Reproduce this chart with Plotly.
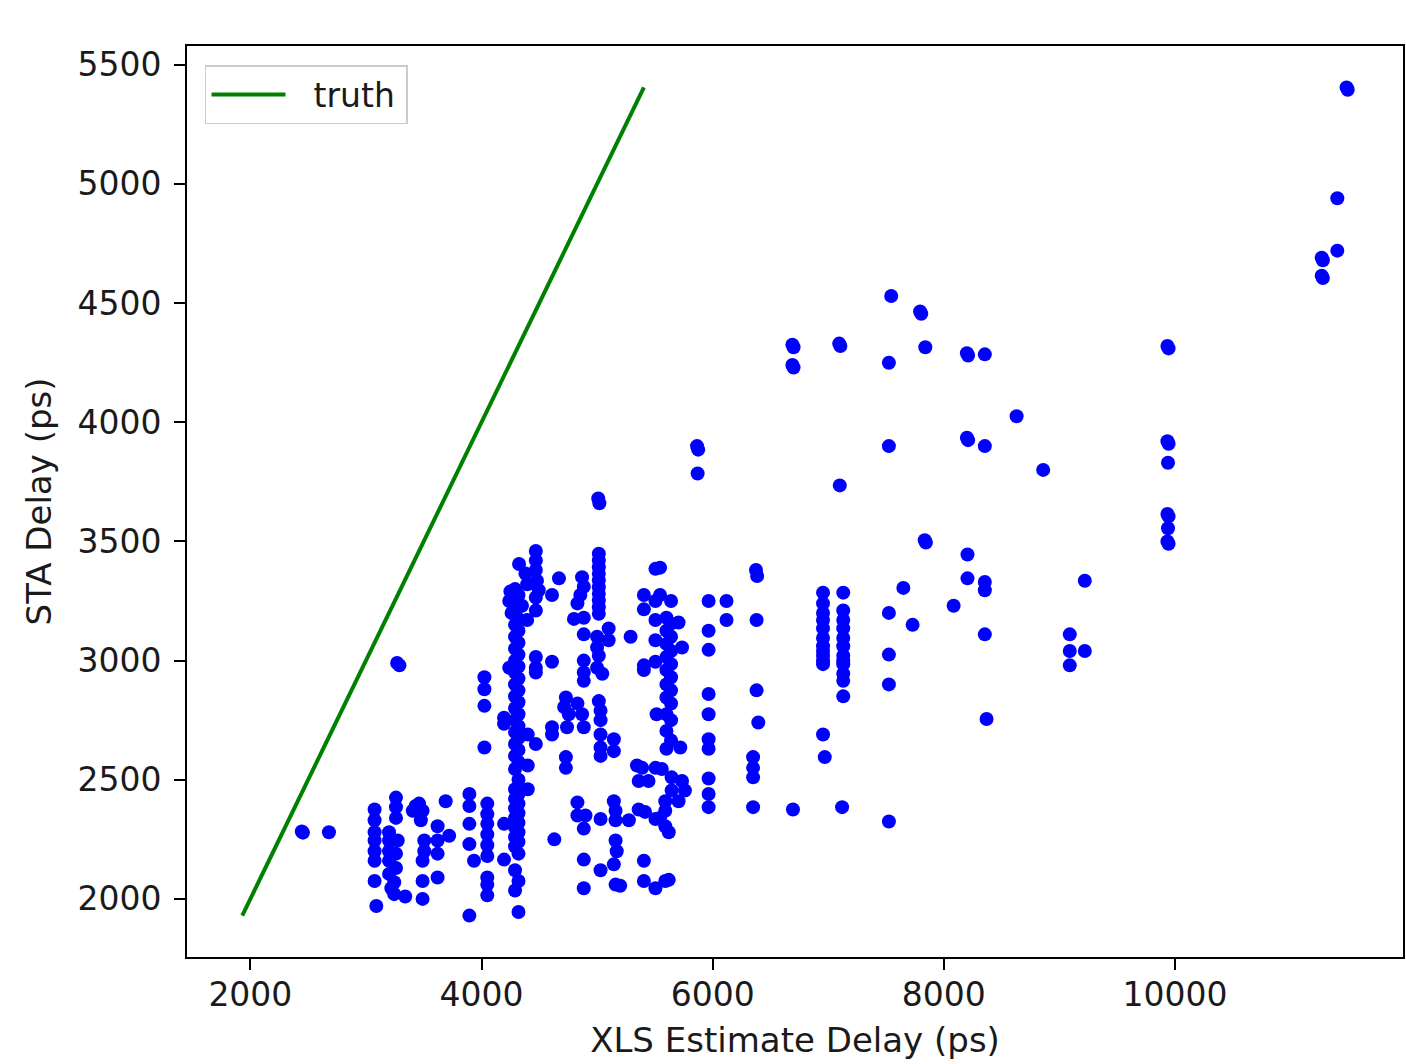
import plotly.graph_objects as go

# ---- data (ps) ----
xls_estimate = [
    2445, 2455, 2680, 3270, 3290,
    3075, 3075, 3075, 3075, 3075, 3075, 3075, 3090,
    3200, 3200, 3200, 3200, 3200, 3220, 3245, 3245, 3260, 3260, 3260, 3275, 3260, 3260, 3340,
    3405, 3460, 3490, 3475, 3430, 3505, 3505, 3490, 3490, 3490, 3620, 3620, 3620, 3620, 3690, 3720,
    3895, 3895, 3895, 3895, 3935, 3895, 4050, 4050, 4050, 4050, 4050, 4050, 4050, 4050, 4050,
    4195, 4195, 4025, 4025, 4025, 4195, 4195, 4025, 4240,
    4290, 4320, 4290, 4320, 4290, 4320, 4290, 4320, 4290, 4320,
    4290, 4320, 4290, 4320, 4290, 4320, 4290, 4320, 4290, 4320,
    4290, 4320, 4290, 4320, 4290, 4320, 4290, 4320, 4290, 4320,
    4290, 4320, 4290, 4320, 4290, 4320, 4290, 4320, 4290, 4320,
    4290, 4320, 4290, 4320, 4290, 4320, 4290, 4320, 4290, 4320,
    4325, 4380, 4395, 4250, 4240, 4260, 4350, 4395, 4470, 4470, 4470, 4480, 4495, 4470,
    4610, 4670, 4470, 4470, 4470, 4470, 4610, 4400, 4610, 4470, 4400, 4400, 4630, 4610,
    5010, 5020, 5015, 5015, 5015, 5015, 5015, 5015, 5015, 5015, 5015, 5015,
    4870, 4885, 4855, 4830, 4800, 4885, 4885, 4885, 4885, 4885,
    5000, 5000, 5015, 5000, 5045, 5100, 5100, 5290,
    5405, 5405, 5405, 5405, 5505, 5505, 5505, 5505, 5505, 5545, 5545,
    4730, 4715, 4755, 4740, 4830, 4870, 4885, 5015, 5030, 5030, 5030, 5030, 5030, 5145, 5145, 4730, 4730,
    5345, 5360, 5445, 5505, 5390, 5360, 5415, 5505, 5405, 5405, 5505, 5515,
    4830, 4830, 4900, 4885, 5030, 5145, 5160, 5160, 5275, 5160, 5170, 5145, 5030, 5160, 5200, 4885, 4885,
    5865, 5875, 5870, 5640, 5965, 6120, 6120, 5965, 5965, 5705, 5735, 5720,
    5600, 5640, 5600, 5640, 5600, 5640, 5600, 5640, 5600, 5640,
    5600, 5640, 5600, 5640, 5600, 5640, 5600, 5640, 5600,
    5965, 5965, 5965, 5965, 5965, 5965, 5965, 6375, 6385, 6380, 6380, 6395, 6350, 6350, 6350, 6350,
    5560, 5645, 5735, 5760, 5645, 5590, 5705, 5590, 5545, 5590, 5620, 5590, 5620,
    6690, 6700, 6690, 6700, 7095, 7105, 7100, 6695, 7120,
    6955, 6955, 6955, 6955, 6955, 6955, 6955, 6955, 6955, 6955, 6955, 6955, 6970,
    7130, 7130, 7130, 7130, 7130, 7130, 7130, 7130, 7130, 7130, 7130, 7130,
    7545, 7795, 7805, 7840, 7525, 7525, 7835, 7845, 7650, 7525, 7730, 7525, 7525, 7525,
    8085, 8200, 8210, 8355, 8630, 8200, 8210, 8355, 8860, 8205, 8205, 8355, 8355, 8355,
    9220, 9090, 9090, 9220, 9090, 8370,
    9935, 9945, 9935, 9945, 9940, 9935, 9945, 9940, 9935, 9945,
    11405, 11405, 11270, 11280, 11270, 11280, 11485, 11495,
]

sta_delay = [
    2283, 2278, 2280, 2990, 2980,
    2375, 2330, 2280, 2245, 2200, 2160, 2075, 1970,
    2280, 2245, 2200, 2160, 2105, 2045, 2020, 2070, 2425, 2385, 2340, 2245, 2190, 2130, 2010,
    2370, 2400, 2370, 2330, 2390, 2245, 2200, 2160, 2075, 2000, 2305, 2245, 2190, 2090, 2410, 2265,
    2440, 2390, 2315, 2230, 2160, 1930, 2400, 2355, 2315, 2270, 2225, 2180, 2090, 2060, 2015,
    2315, 2165, 2930, 2880, 2810, 2760, 2735, 2635, 2970,
    3300, 3275, 3250, 3225, 3200, 3175, 3150, 3125, 3100, 3075,
    3050, 3025, 3000, 2975, 2950, 2925, 2900, 2875, 2850, 2825,
    2800, 2775, 2750, 2725, 2700, 2675, 2650, 2625, 2600, 2575,
    2545, 2500, 2460, 2440, 2420, 2400, 2380, 2360, 2340, 2320,
    2300, 2280, 2260, 2240, 2220, 2190, 2120, 2075, 2035, 1945,
    3405, 3365, 3320, 3290, 3250, 3200, 3230, 3170, 3460, 3420, 3380, 3335, 3295, 3265,
    3275, 3345, 3210, 3015, 2970, 2950, 2995, 2690, 2690, 2650, 2560, 2460, 2250, 2720,
    3680, 3660, 3448, 3420, 3392, 3364, 3336, 3308, 3280, 3252, 3224, 3196,
    3350, 3310, 3275, 3240, 3175, 3180, 3110, 3000, 2950, 2915,
    3100, 3055, 3020, 2970, 2945, 3135, 3085, 3100,
    3275, 3215, 2980, 2960, 3385, 3250, 3170, 3085, 2995, 3390, 3275,
    2845, 2805, 2775, 2720, 2820, 2775, 2720, 2830, 2790, 2750, 2690, 2635, 2600, 2670, 2620, 2595, 2550,
    2560, 2495, 2495, 2550, 2550, 2375, 2365, 2335, 2160, 2075, 2045, 2775,
    2405, 2350, 2350, 2295, 2335, 2410, 2370, 2330, 2330, 2245, 2200, 2145, 2120, 2060, 2055, 2165, 2045,
    3900, 3885, 3785, 3250, 3250, 3250, 3170, 3125, 3045, 3160, 3055, 2635,
    3180, 3155, 3125, 3100, 3070, 3040, 3015, 2985, 2960, 2930,
    2900, 2875, 2845, 2820, 2775, 2750, 2705, 2665, 2630,
    2860, 2775, 2670, 2630, 2505, 2440, 2385, 3380, 3355, 3170, 2875, 2740, 2595, 2550, 2510, 2385,
    2545, 2510, 2495, 2455, 2455, 2410, 2410, 2370, 2340, 2305, 2280, 2075, 2080,
    4325, 4315, 4240, 4230, 4330, 4320, 3735, 2375, 2385,
    3285, 3240, 3200, 3170, 3135, 3095, 3060, 3040, 3020, 3000, 2985, 2690, 2595,
    3285, 3210, 3170, 3135, 3095, 3060, 3020, 3000, 2985, 2945, 2915, 2850,
    4530, 4465, 4455, 4315, 4250, 3900, 3505, 3495, 3305, 3200, 3150, 3025, 2900, 2325,
    3230, 4290, 4280, 4285, 4025, 3935, 3925, 3900, 3800, 3445, 3345, 3330, 3295, 3110,
    3335, 3110, 3040, 3040, 2980, 2755,
    4320, 4310, 3920, 3910, 3830, 3615, 3605, 3555, 3500, 3490,
    4940, 4720, 4690, 4680, 4615, 4605, 5405, 5395,
]

x_ticks = [2000, 4000, 6000, 8000, 10000]
y_ticks = [2000, 2500, 3000, 3500, 4000, 4500, 5000, 5500]

# truth line spans the STA delay range (y = x)
truth = [min(sta_delay), max(sta_delay)]

# matplotlib-like 5% autoscale margins
all_x = xls_estimate + truth
all_y = sta_delay + truth
xmin, xmax = min(all_x), max(all_x)
ymin, ymax = min(all_y), max(all_y)
xpad = 0.05 * (xmax - xmin)
ypad = 0.05 * (ymax - ymin)

FONT = "DejaVu Sans"
TXT = "#1a1a1a"

fig = go.Figure()
fig.add_trace(go.Scatter(
    x=xls_estimate, y=sta_delay, mode="markers",
    marker=dict(color="#0000ff", size=14, line=dict(width=0)),
    showlegend=False, name="data",
))
fig.add_trace(go.Scatter(
    x=truth, y=truth, mode="lines",
    line=dict(color="#008000", width=4),
    name="\u2002\u2009truth\u2009",
))

axis_common = dict(
    showline=True, mirror=True, linecolor="black", linewidth=2,
    ticks="outside", ticklen=11, tickwidth=2, tickcolor="black",
    showgrid=False, zeroline=False,
    tickfont=dict(family=FONT, size=33, color=TXT),
)

fig.update_layout(
    width=1406, height=1064,
    margin=dict(l=187, r=1, t=46, b=107),
    paper_bgcolor="white", plot_bgcolor="white",
    font=dict(family=FONT, size=33, color=TXT),
    xaxis=dict(
        range=[xmin - xpad, xmax + xpad],
        tickvals=x_ticks, ticktext=[str(v) for v in x_ticks],
        ticklabelstandoff=-4,
        title=dict(text="XLS Estimate Delay (ps)", font=dict(family=FONT, size=34, color=TXT), standoff=16),
        **axis_common,
    ),
    yaxis=dict(
        range=[ymin - ypad, ymax + ypad],
        tickvals=y_ticks, ticktext=[str(v) for v in y_ticks],
        ticklabelstandoff=6,
        title=dict(text="STA Delay (ps)", font=dict(family=FONT, size=34, color=TXT), standoff=16),
        **axis_common,
    ),
    showlegend=True,
    legend=dict(
        x=0.0148, y=0.9791, xanchor="left", yanchor="top",
        bgcolor="rgba(255,255,255,0.8)", bordercolor="#cccccc", borderwidth=1.5,
        font=dict(family=FONT, size=33, color=TXT),
        itemwidth=74,
    ),
)

fig.write_html(
    "out.html",
    config={"displayModeBar": False},
    post_script="document.body.style.margin='0';",
)
